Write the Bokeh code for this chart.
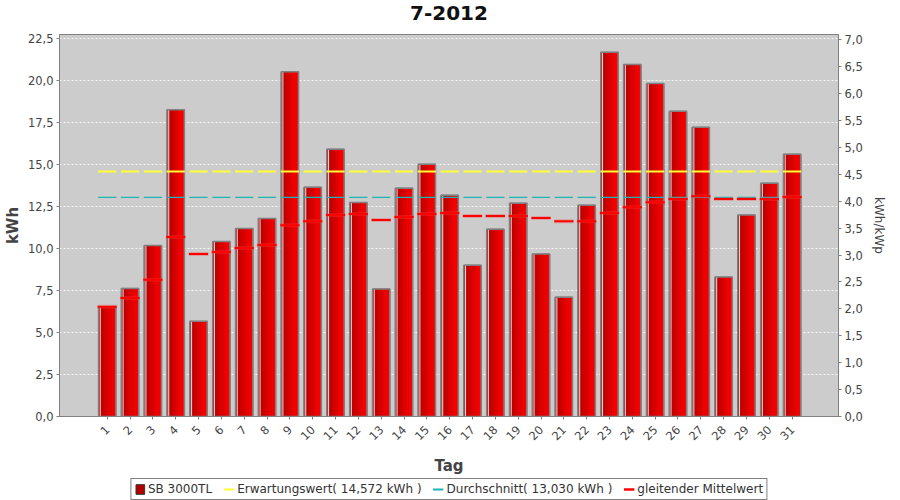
from math import pi
from bokeh.plotting import figure
from bokeh.layouts import column
from bokeh.core.properties import value
from bokeh.models import (Range1d, LinearAxis, FixedTicker, Legend, LegendItem,
                          ColumnDataSource)
from bokeh.transform import dodge
from bokeh.embed import file_html
from bokeh.resources import INLINE

# ---------------- data ----------------
days = list(range(1, 32))
day_labels = [str(d) for d in days]
yield_kwh = [6.53, 7.62, 10.17, 18.25, 5.66, 10.41, 11.18, 11.78, 20.50, 13.64,
             15.90, 12.73, 7.58, 13.58, 15.00, 13.16, 9.00, 11.14, 12.69, 9.66,
             7.10, 12.57, 21.66, 20.94, 19.81, 18.15, 17.20, 8.29, 11.98, 13.88,
             15.60]
moving_avg = [6.53, 7.05, 8.14, 10.67, 9.66, 9.78, 10.02, 10.20, 11.38, 11.62,
              11.98, 12.04, 11.68, 11.86, 12.04, 12.10, 11.92, 11.92, 11.92, 11.80,
              11.62, 11.62, 12.10, 12.45, 12.75, 12.93, 13.10, 12.93, 12.93, 12.93,
              13.05]
expected_value = 14.572
average_value = 13.030
expected_kwh = [expected_value] * len(days)
average_kwh = [average_value] * len(days)
kwp = 3.2

left_ticks = [0, 2.5, 5, 7.5, 10, 12.5, 15, 17.5, 20, 22.5]
left_tick_labels = ["0,0", "2,5", "5,0", "7,5", "10,0", "12,5", "15,0", "17,5",
                    "20,0", "22,5"]
right_ticks = [0, 0.5, 1, 1.5, 2, 2.5, 3, 3.5, 4, 4.5, 5, 5.5, 6, 6.5, 7]
right_tick_labels = ["0,0", "0,5", "1,0", "1,5", "2,0", "2,5", "3,0", "3,5",
                     "4,0", "4,5", "5,0", "5,5", "6,0", "6,5", "7,0"]

title_text = "7-2012"
series_names = ["SB 3000TL", "Erwartungswert( 14,572 kWh )",
                "Durchschnitt( 13,030 kWh )", "gleitender Mittelwert"]

BAR_COLOR = "#b00000"
YELLOW = "#ffff33"
CYAN = "#20b4b4"
RED = "#ff0000"
NAN = float("nan")
FONT = "DejaVu Sans"

# ---------------- title strip ----------------
tf = figure(width=900, height=28, x_range=Range1d(0, 1), y_range=Range1d(0, 1),
            x_axis_type=None, y_axis_type=None, output_backend="svg",
            toolbar_location=None, min_border=0, outline_line_color=None)
tf.xgrid.visible = False
tf.ygrid.visible = False
tf.text(x=[0.5], y=[0.536], text=[title_text], text_font=value(FONT),
        text_font_size="20px", text_font_style="bold", text_align="center",
        text_baseline="middle", text_color="#111111")

# ---------------- main figure ----------------
y_max = 22.72
p = figure(width=900, height=450,
           x_range=Range1d(-1.09, 33.03), y_range=Range1d(0, y_max),
           output_backend="svg", toolbar_location=None,
           min_border_left=59, min_border_right=62, min_border_top=6,
           min_border_bottom=61)
p.extra_y_ranges = {"norm": Range1d(0, y_max / kwp)}

p.background_fill_color = "#cccccc"
p.border_fill_color = "white"
p.outline_line_color = "#808080"
p.outline_line_width = 1

src = ColumnDataSource(dict(day=days, kwh=yield_kwh, mavg=moving_avg,
                            exp=expected_kwh, avg=average_kwh))

# grid
p.xgrid.visible = False
p.ygrid.ticker = FixedTicker(ticks=left_ticks)
p.ygrid.grid_line_color = "white"
p.ygrid.grid_line_dash = "2 2"
p.ygrid.grid_line_alpha = 0.85

# bars with a gradient approximation
BW = 0.76
p.vbar(x="day", top="kwh", width=BW, bottom=0, source=src,
       fill_color=BAR_COLOR, line_color="#707070", line_width=1)
n = 8
cols = ["#b20000", "#bf0000", "#cb0000", "#d60000", "#e10000", "#ec0000",
        "#f50000", "#fc0000"]
sw = BW / n
for i in range(n):
    off = -BW / 2 + sw * (i + 0.5)
    p.vbar(x=dodge("day", off, range=p.x_range), top="kwh", width=sw * 1.02,
           bottom=0, source=src, fill_color=cols[i], line_color=None)
# white highlight strip
p.vbar(x=dodge("day", -BW / 2 + 0.075, range=p.x_range), top="kwh", width=0.045,
       bottom=0, source=src, fill_color="white", fill_alpha=0.85, line_color=None)
# outline on top
p.vbar(x="day", top="kwh", width=BW, bottom=0, source=src,
       fill_color=None, line_color="#808080", line_width=1.5)

# level lines
HW = 0.40
p.segment(x0=dodge("day", -HW, range=p.x_range), x1=dodge("day", HW, range=p.x_range),
          y0="exp", y1="exp", source=src, line_color=YELLOW, line_width=2)
p.segment(x0=dodge("day", -HW, range=p.x_range), x1=dodge("day", HW, range=p.x_range),
          y0="avg", y1="avg", source=src, line_color=CYAN, line_width=1.2)
p.segment(x0=dodge("day", -0.43, range=p.x_range), x1=dodge("day", 0.43, range=p.x_range),
          y0="mavg", y1="mavg", source=src, line_color="#ff4040", line_width=4,
          line_alpha=0.3)
p.segment(x0=dodge("day", -0.42, range=p.x_range), x1=dodge("day", 0.42, range=p.x_range),
          y0="mavg", y1="mavg", source=src, line_color=RED, line_width=2)

# axes styling
def style_axis(ax):
    ax.axis_line_color = "#808080"
    ax.major_tick_line_color = "#808080"
    ax.minor_tick_line_color = None
    ax.major_tick_out = 3
    ax.major_tick_in = 0
    ax.major_label_text_font = FONT
    ax.major_label_text_font_size = "11.5px"
    ax.major_label_text_color = "#444444"
    ax.major_label_standoff = 3
    ax.axis_label_text_font = FONT
    ax.axis_label_text_color = "#444444"

yl = p.yaxis[0]
style_axis(yl)
yl.ticker = FixedTicker(ticks=left_ticks)
yl.major_label_overrides = {t: s for t, s in zip(left_ticks, left_tick_labels)}
yl.axis_label = "kWh"
yl.axis_label_text_font_size = "15px"
yl.axis_label_text_font_style = "bold"
yl.axis_label_standoff = 3

yr = LinearAxis(y_range_name="norm")
style_axis(yr)
yr.ticker = FixedTicker(ticks=right_ticks)
yr.major_label_overrides = {t: s for t, s in zip(right_ticks, right_tick_labels)}
yr.axis_label = "kWh/kWp"
yr.axis_label_text_font_size = "12px"
yr.axis_label_text_font_style = "normal"
yr.axis_label_standoff = 6
p.add_layout(yr, "right")

xa = p.xaxis[0]
style_axis(xa)
xa.ticker = FixedTicker(ticks=days)
xa.major_label_overrides = {d: s for d, s in zip(days, day_labels)}
xa.major_label_orientation = pi / 4
xa.major_label_standoff = 8
xa.axis_label = "Tag"
xa.axis_label_text_font_size = "15px"
xa.axis_label_text_font_style = "bold"
xa.axis_label_standoff = 10

# ---------------- legend strip ----------------
lg = figure(width=900, height=22, x_range=Range1d(0, 1), y_range=Range1d(0, 1),
            x_axis_type=None, y_axis_type=None, output_backend="svg",
            toolbar_location=None, min_border=0, outline_line_color=None)
lg.xgrid.visible = False
lg.ygrid.visible = False
# legend proxies (no visible data)
r_bar = lg.vbar(x=[NAN], top=[NAN], width=1, fill_color=BAR_COLOR, line_color="#333333")
r_yel = lg.line(x=[NAN, NAN], y=[NAN, NAN], line_color=YELLOW, line_width=2)
r_cya = lg.line(x=[NAN, NAN], y=[NAN, NAN], line_color=CYAN, line_width=2)
r_red = lg.line(x=[NAN, NAN], y=[NAN, NAN], line_color=RED, line_width=2.5)
legend = Legend(items=[LegendItem(label=series_names[0], renderers=[r_bar]),
                       LegendItem(label=series_names[1], renderers=[r_yel]),
                       LegendItem(label=series_names[2], renderers=[r_cya]),
                       LegendItem(label=series_names[3], renderers=[r_red])],
                orientation="horizontal", location="center",
                border_line_color="black", border_line_width=1,
                background_fill_color="white",
                label_text_font=FONT, label_text_font_size="12px",
                label_text_color="#333333",
                glyph_width=11, glyph_height=12, label_standoff=3,
                spacing=11, padding=3, margin=0, label_height=12)
lg.add_layout(legend, "center")

layout = column(tf, p, lg, spacing=0)
open("out.html", "w").write(file_html(layout, INLINE))
